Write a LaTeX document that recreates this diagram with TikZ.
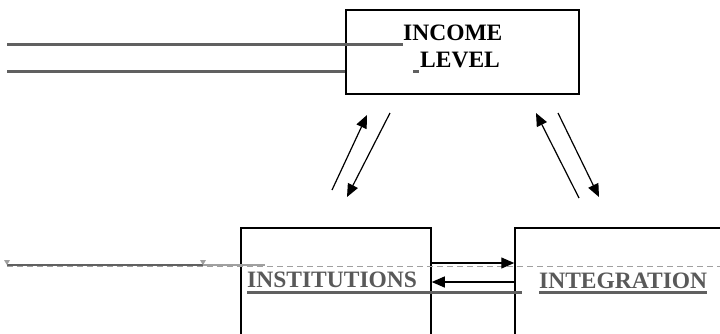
\documentclass[tikz,border=0pt]{standalone}
\usepackage{fontspec}
\setmainfont{Liberation Serif}
\usetikzlibrary{arrows.meta,calc}
\definecolor{txtgray}{HTML}{595959}
\definecolor{linegray}{HTML}{606060}
\definecolor{dashgray}{HTML}{A0A0A0}

\begin{document}
\begin{tikzpicture}[x=1pt, y=-1pt,
  box/.style={draw, line width=1.5pt, inner sep=0pt},
  arr/.style={-{Triangle[length=13pt,width=11pt]}, line width=1.2pt},
  lbl/.style={font=\fontsize{23.5}{26}\selectfont\bfseries, inner sep=0pt, anchor=base west},
  rule/.style={linegray, line width=3pt}]
  \useasboundingbox (0,0) rectangle (720,333);
  \clip (0,0) rectangle (720,333);
  % boxes (the lower two run off the page)
  \node[box, minimum width=233pt, minimum height=84pt] (income) at (462.5,52) {};
  \node[box, minimum width=190pt, minimum height=172pt] (inst) at (336,314) {};
  \node[box, minimum width=245pt, minimum height=172pt] (integ) at (637.5,314) {};
  % texts
  \node[lbl] (incometxt) at (403,40) {INCOME};
  \node[lbl] (leveltxt) at (420,67) {LEVEL};
  \node[lbl, text=txtgray] (insttxt) at (247,287) {INSTITUTIONS};
  \node[lbl, text=txtgray] (integtxt) at (539,288) {INTEGRATION};
  % gray rules
  \draw[rule] (7,44) -- (incometxt.base west |- 0,44);
  \draw[rule] (7,71) -- (income.west |- 0,71);
  \draw[rule] (413,71) -- (419,71);
  \draw[dashgray, line width=1pt, dash pattern=on 6pt off 4pt] (7,266) -- (720,266);
  \draw[rule, line width=2.4pt] (7,265) -- (203,265);
  \draw[dashgray, line width=2.4pt] (203,265) -- (265,265);
  \fill[dashgray] (4,260) -- (10,260) -- (7,265) -- cycle;
  \fill[dashgray] (200,260) -- (206,260) -- (203,265) -- cycle;
  \draw[rule] (insttxt.base west |- 0,292) -- (522,292);
  \draw[rule] (integtxt.base west |- 0,292) -- (integtxt.base east |- 0,292);
  % arrows between the lower boxes
  \draw[arr] (inst.east |- 0,263) -- (integ.west |- 0,263);
  \draw[arr] (integ.west |- 0,282) -- (inst.east |- 0,282);
  % left pair
  \coordinate (L1) at (332,190);
  \coordinate (L2) at (367,115);
  \coordinate (L3) at (390,113);
  \coordinate (L4) at (347,197);
  \draw[arr] (L1) -- (L2);
  \draw[arr] (L3) -- (L4);
  % right pair
  \coordinate (R1) at (579,198);
  \coordinate (R2) at (536,113);
  \coordinate (R3) at (558,113);
  \coordinate (R4) at (599,197);
  \draw[arr] (R1) -- (R2);
  \draw[arr] (R3) -- (R4);
\end{tikzpicture}
\end{document}
